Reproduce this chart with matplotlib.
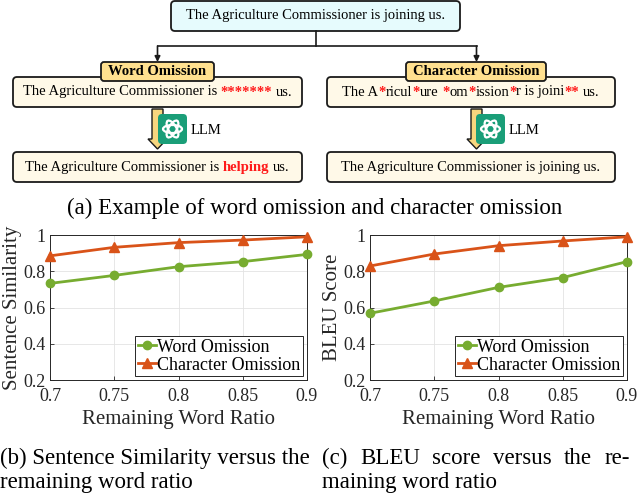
import matplotlib
matplotlib.use('Agg')
import matplotlib.pyplot as plt
from matplotlib.patches import FancyBboxPatch, FancyArrow, Ellipse

plt.rcParams['font.family'] = ['Liberation Serif', 'DejaVu Serif']

# data
ratio = [0.7, 0.75, 0.8, 0.85, 0.9]
ratio_labels = ['0.7', '0.75', '0.8', '0.85', '0.9']
sim_word = [0.733, 0.777, 0.825, 0.853, 0.893]
sim_char = [0.885, 0.932, 0.958, 0.972, 0.990]
bleu_word = [0.568, 0.636, 0.711, 0.765, 0.853]
bleu_char = [0.829, 0.895, 0.941, 0.967, 0.990]
y_ticks = [0.2, 0.4, 0.6, 0.8, 1.0]
y_labels = ['0.2', '0.4', '0.6', '0.8', '1']

GREEN = '#77ac30'
ORANGE = '#d95319'
RED = '#ff1a1a'

fig = plt.figure(figsize=(6.4, 4.94), dpi=100)
ax0 = fig.add_axes([0, 0, 1, 1])
ax0.set_xlim(0, 640)
ax0.set_ylim(494, 0)
ax0.axis('off')
rend = fig.canvas.get_renderer()


def box(x0, y0, x1, y1, fc, r=4, lw=1.3):
    ax0.add_patch(FancyBboxPatch((x0, y0), x1 - x0, y1 - y0,
                                 boxstyle=f'round,pad=0,rounding_size={r}',
                                 fc=fc, ec='#1a1a1a', lw=lw))


def width_of(s, size, bold=False):
    t = ax0.text(0, 0, s, fontsize=size, fontweight='bold' if bold else 'normal')
    w = t.get_window_extent(rend).width
    t.remove()
    return w


def rich(x, y, parts, size=10.5):
    sp = width_of('a a', size) - width_of('aa', size)
    items = []
    total = 0
    for s, c, b in parts:
        lead = len(s) - len(s.lstrip(' '))
        trail = len(s) - len(s.rstrip(' '))
        core = s.strip(' ')
        w = width_of(core, size, b)
        items.append((core, c, b, lead * sp, w, trail * sp))
        total += lead * sp + w + trail * sp
    cur = x - total / 2
    for core, c, b, l, w, t in items:
        cur += l
        ax0.text(cur, y, core, color=c, fontsize=size, va='center', ha='left',
                 fontweight='bold' if b else 'normal')
        cur += w + t


def llm(xc, x_icon):
    ax0.add_patch(FancyArrow(xc, 109, 0, 40, width=11, head_width=19, head_length=10,
                             length_includes_head=True, fc='#f7d67e', ec='#1a1a1a', lw=1.0))
    ax0.add_patch(FancyBboxPatch((x_icon, 114), 29, 30,
                                 boxstyle='round,pad=0,rounding_size=4',
                                 fc='#1a9e78', ec='none'))
    cx, cy = x_icon + 14.5, 129
    for ang in (0, 60, 120):
        ax0.add_patch(Ellipse((cx, cy), 19, 8, angle=ang, fc='none', ec='white', lw=1.6))
    ax0.text(x_icon + 33, 130, 'LLM', fontsize=10.5, va='center', ha='left')


# ---- diagram (a)
box(171, 1, 460, 31, '#e6fbfd')
rich(315.5, 16, [('The Agriculture Commissioner is joining us.', 'k', False)])
ax0.plot([315.5, 315.5], [31, 46], color='#1a1a1a', lw=1.2)
ax0.plot([157.5, 476.5], [46, 46], color='#1a1a1a', lw=1.2)
for xa in (157.5, 476.5):
    ax0.annotate('', xy=(xa, 62), xytext=(xa, 46),
                 arrowprops=dict(arrowstyle='-|>', color='#1a1a1a', lw=1.2, mutation_scale=8,
                                 shrinkA=0, shrinkB=0))

box(13, 77, 302, 107, '#fff9e8')
box(327, 77, 615, 107, '#fff9e8')
box(101, 62, 214, 81, '#ffe08f', r=3)
box(406, 62, 546, 81, '#ffe08f', r=3)
rich(157.5, 71.5, [('Word Omission', 'k', True)])
rich(476, 71.5, [('Character Omission', 'k', True)])

rich(157.5, 92, [('The Agriculture Commissioner is ', 'k', False), ('*******', RED, True),
                 (' us.', 'k', False)])
rich(471, 92, [('The A', 'k', False), ('*', RED, True), ('ricul', 'k', False), ('*', RED, True),
               ('ure ', 'k', False), ('*', RED, True), ('om', 'k', False), ('*', RED, True),
               ('ission', 'k', False), ('*', RED, True), ('r is joini', 'k', False),
               ('**', RED, True), (' us.', 'k', False)])

llm(157.5, 158)
llm(476.5, 476)

box(13, 152, 302, 182, '#fff9e8')
box(327, 152, 615, 182, '#fff9e8')
rich(157.5, 167, [('The Agriculture Commissioner is ', 'k', False), ('helping', RED, True),
                  (' us.', 'k', False)])
rich(471, 167, [('The Agriculture Commissioner is joining us.', 'k', False)])

ax0.text(315, 208, '(a) Example of word omission and character omission',
         fontsize=16.5, ha='center', va='center')


# ---- charts (b) and (c)
def panel(left, word, char, ylabel):
    ax = fig.add_axes([left / 640, (494 - 380) / 494, 257 / 640, 145 / 494])
    ax.plot(ratio, word, color=GREEN, lw=2, marker='o', ms=6, label='Word Omission', clip_on=False, zorder=3)
    ax.plot(ratio, char, color=ORANGE, lw=2, marker='^', ms=7, label='Character Omission', clip_on=False, zorder=3)
    ax.set_xlim(0.7, 0.9)
    ax.set_ylim(0.2, 1.0)
    ax.set_xticks(ratio, ratio_labels)
    ax.set_yticks(y_ticks, y_labels)
    ax.grid(True, color='#e3e3e3', lw=0.6)
    ax.set_axisbelow(True)
    for s in ax.spines.values():
        s.set_color('#262626')
        s.set_linewidth(0.7)
    ax.tick_params(direction='in', length=3, width=0.6, labelsize=13, colors='#262626', pad=3)
    ax.tick_params(axis='x', pad=6)
    ax.set_xlabel('Remaining Word Ratio', fontsize=15, labelpad=3, color='#262626')
    ax.set_ylabel(ylabel, fontsize=15, labelpad=1, color='#262626')
    leg = ax.legend(loc='lower right', fontsize=13, handlelength=1.0, handletextpad=0.1,
                    borderpad=0.15, labelspacing=0.05, borderaxespad=0.2, fancybox=False,
                    framealpha=1, edgecolor='#262626')
    leg.get_frame().set_linewidth(0.7)
    return ax


panel(50, sim_word, sim_char, 'Sentence Similarity')
panel(370, bleu_word, bleu_char, 'BLEU Score')

ax0.text(0, 458, '(b) Sentence Similarity versus the', fontsize=16.5, ha='left', va='center')
ax0.text(0, 482, 'remaining word ratio', fontsize=16.5, ha='left', va='center')

words_c = ['(c)', 'BLEU', 'score', 'versus', 'the', 're-']
ws = [width_of(w, 16.5) for w in words_c]
gap = (630 - 322 - sum(ws)) / (len(words_c) - 1)
cur = 322
for w, wd in zip(words_c, ws):
    ax0.text(cur, 458, w, fontsize=16.5, ha='left', va='center')
    cur += wd + gap
ax0.text(322, 482, 'maining word ratio', fontsize=16.5, ha='left', va='center')

fig.savefig('out.png', dpi=100)
